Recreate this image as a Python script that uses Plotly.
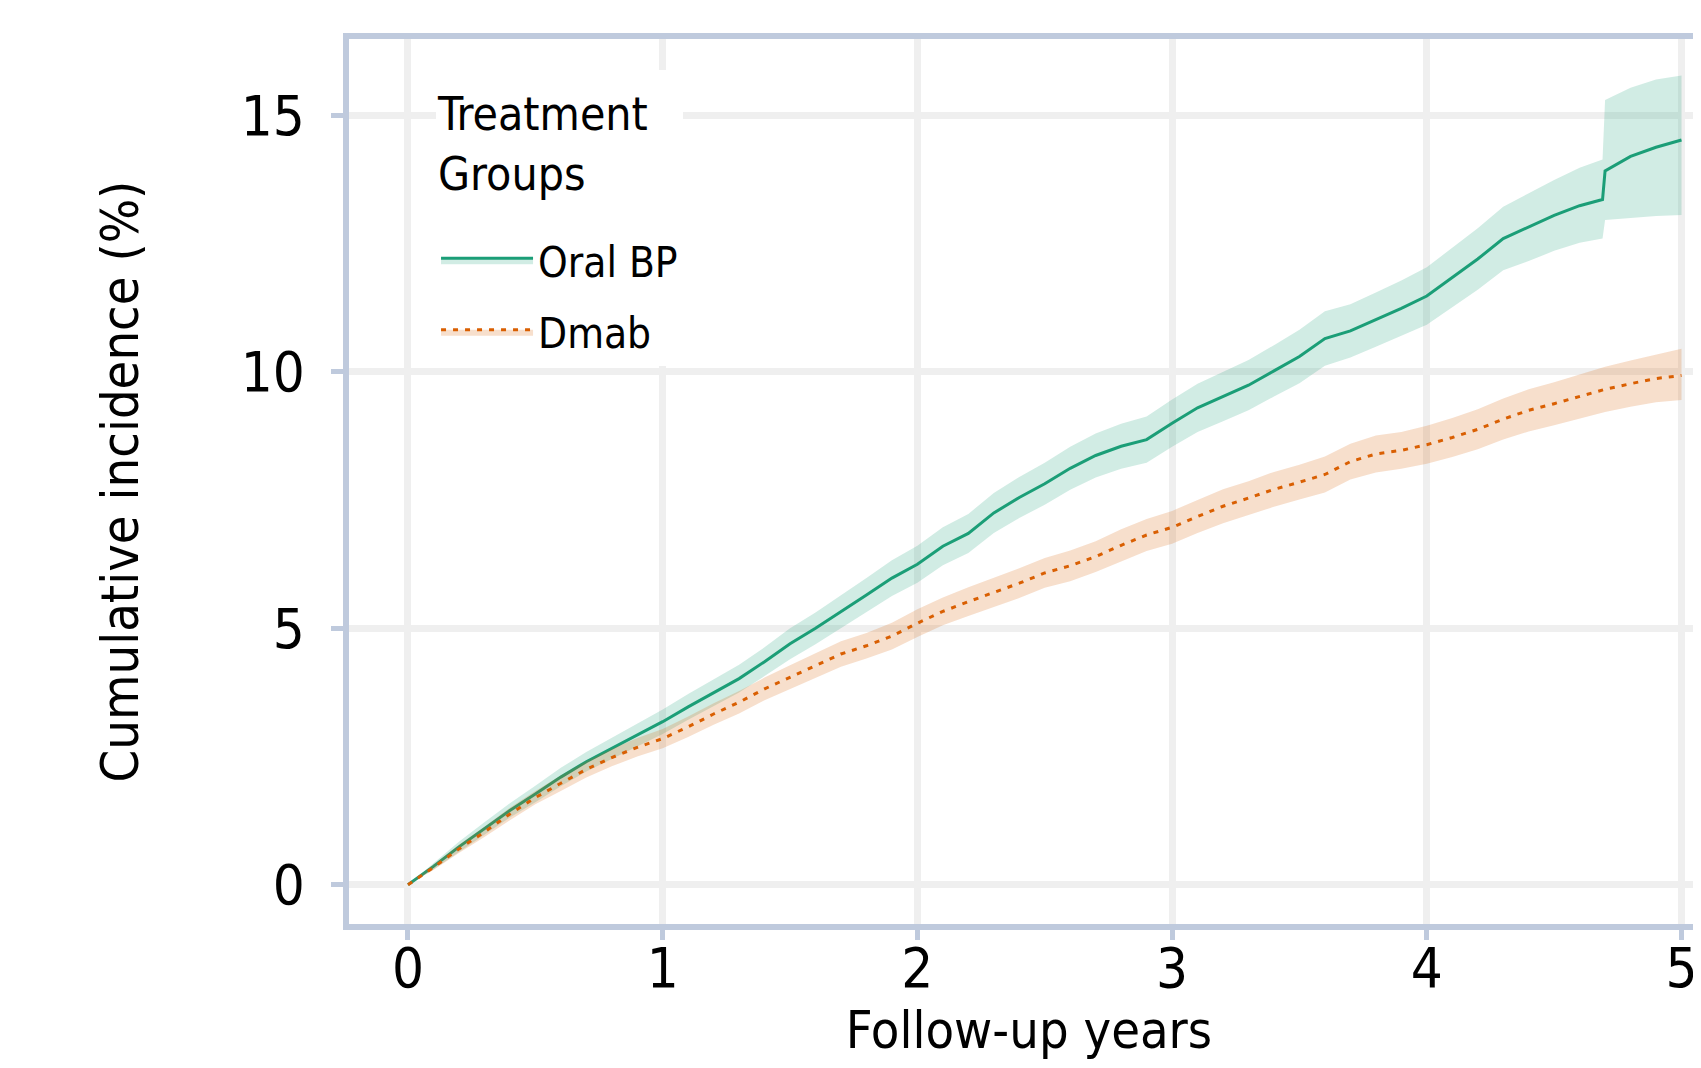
import plotly.graph_objects as go

# ---- data ----
years_bp = [0, 0.1, 0.2, 0.3, 0.4, 0.5, 0.6, 0.7, 0.8, 0.9, 1.0, 1.1, 1.2, 1.3, 1.4, 1.5,
            1.6, 1.7, 1.8, 1.9, 2.0, 2.1, 2.2, 2.3, 2.4, 2.5, 2.6, 2.7, 2.8, 2.9, 3.0,
            3.1, 3.2, 3.3, 3.4, 3.5, 3.6, 3.7, 3.8, 3.9, 4.0, 4.1, 4.2, 4.3, 4.4, 4.5,
            4.6, 4.69, 4.70, 4.8, 4.9, 5.0]
oral_bp = [0, 0.36, 0.74, 1.10, 1.45, 1.77, 2.10, 2.40, 2.66, 2.92, 3.18, 3.47, 3.74,
           4.02, 4.35, 4.70, 5.00, 5.32, 5.65, 5.98, 6.25, 6.60, 6.85, 7.25, 7.55, 7.82,
           8.12, 8.37, 8.55, 8.68, 9.00, 9.30, 9.52, 9.74, 10.02, 10.30, 10.65, 10.80,
           11.02, 11.24, 11.48, 11.84, 12.20, 12.60, 12.82, 13.05, 13.24, 13.36, 13.92,
           14.20, 14.38, 14.52]
oral_bp_hi = [0, 0.42, 0.84, 1.22, 1.59, 1.93, 2.28, 2.59, 2.87, 3.14, 3.42, 3.72, 4.00,
              4.29, 4.63, 5.00, 5.31, 5.64, 5.98, 6.33, 6.61, 6.97, 7.23, 7.64, 7.95, 8.23,
              8.54, 8.80, 8.99, 9.13, 9.46, 9.77, 10.00, 10.23, 10.52, 10.82, 11.18, 11.32,
              11.55, 11.78, 12.04, 12.42, 12.80, 13.22, 13.48, 13.74, 13.98, 14.14, 15.30,
              15.54, 15.70, 15.78]
oral_bp_lo = [0, 0.30, 0.64, 0.98, 1.31, 1.61, 1.92, 2.21, 2.45, 2.70, 2.94, 3.22, 3.48,
              3.75, 4.07, 4.40, 4.69, 5.00, 5.32, 5.63, 5.89, 6.23, 6.47, 6.86, 7.15, 7.41,
              7.70, 7.94, 8.11, 8.23, 8.54, 8.83, 9.04, 9.25, 9.52, 9.78, 10.12, 10.28,
              10.49, 10.70, 10.92, 11.26, 11.60, 11.98, 12.16, 12.36, 12.52, 12.60, 12.96,
              13.00, 13.04, 13.06]

years_dmab = [0, 0.1, 0.2, 0.3, 0.4, 0.5, 0.6, 0.7, 0.8, 0.9, 1.0, 1.1, 1.2, 1.3, 1.4, 1.5,
              1.6, 1.7, 1.8, 1.9, 2.0, 2.1, 2.2, 2.3, 2.4, 2.5, 2.6, 2.7, 2.8, 2.9, 3.0,
              3.1, 3.2, 3.3, 3.4, 3.5, 3.6, 3.7, 3.8, 3.9, 4.0, 4.1, 4.2, 4.3, 4.4, 4.5,
              4.6, 4.7, 4.8, 4.9, 5.0]
dmab = [0, 0.34, 0.70, 1.03, 1.38, 1.70, 1.98, 2.25, 2.48, 2.68, 2.85, 3.08, 3.33, 3.56,
        3.82, 4.05, 4.28, 4.50, 4.66, 4.85, 5.10, 5.33, 5.52, 5.70, 5.88, 6.08, 6.22, 6.40,
        6.62, 6.82, 6.97, 7.18, 7.38, 7.54, 7.71, 7.85, 8.00, 8.25, 8.40, 8.47, 8.58, 8.72,
        8.88, 9.08, 9.25, 9.38, 9.52, 9.66, 9.77, 9.87, 9.93]
dmab_hi = [0, 0.39, 0.78, 1.13, 1.50, 1.83, 2.13, 2.41, 2.65, 2.86, 3.04, 3.28, 3.54, 3.78,
           4.04, 4.28, 4.52, 4.75, 4.91, 5.11, 5.37, 5.60, 5.80, 5.98, 6.17, 6.37, 6.52,
           6.70, 6.93, 7.13, 7.29, 7.50, 7.71, 7.87, 8.05, 8.19, 8.35, 8.60, 8.76, 8.83,
           8.95, 9.10, 9.27, 9.48, 9.66, 9.80, 9.95, 10.10, 10.22, 10.33, 10.45]
dmab_lo = [0, 0.29, 0.62, 0.93, 1.26, 1.57, 1.83, 2.09, 2.31, 2.50, 2.66, 2.88, 3.12, 3.34,
           3.60, 3.82, 4.04, 4.25, 4.41, 4.59, 4.83, 5.06, 5.24, 5.42, 5.59, 5.79, 5.92,
           6.10, 6.31, 6.51, 6.65, 6.86, 7.05, 7.21, 7.37, 7.51, 7.65, 7.90, 8.04, 8.11,
           8.21, 8.34, 8.49, 8.68, 8.84, 8.96, 9.09, 9.22, 9.32, 9.41, 9.45]

x_ticks = [0, 1, 2, 3, 4, 5]
y_ticks = [0, 5, 10, 15]

FONT = "Liberation Sans Narrow, DejaVu Sans Condensed, Open Sans, sans-serif"
GREEN = "#1b9e77"
GREEN_FILL = "rgba(27,158,119,0.2)"
ORANGE = "#d95f02"
ORANGE_FILL = "rgba(217,95,2,0.2)"
AXIS = "#bfcadd"
GRID = "#efefef"

fig = go.Figure()

# Oral BP: lower bound, main line (fills down to lower), upper bound (fills down to line)
fig.add_trace(go.Scatter(x=years_bp, y=oral_bp_lo, mode="lines", line=dict(width=0, color=GREEN),
                         legendgroup="bp", showlegend=False, hoverinfo="skip"))
fig.add_trace(go.Scatter(x=years_bp, y=oral_bp, mode="lines", name="Oral BP",
                         legendgroup="bp",
                         legendgrouptitle=dict(text=" ", font=dict(size=26, family=FONT)),
                         line=dict(color=GREEN, width=3), fill="tonexty", fillcolor=GREEN_FILL))
fig.add_trace(go.Scatter(x=years_bp, y=oral_bp_hi, mode="lines", line=dict(width=0, color=GREEN),
                         legendgroup="bp", fill="tonexty", fillcolor=GREEN_FILL,
                         showlegend=False, hoverinfo="skip"))

# Dmab
fig.add_trace(go.Scatter(x=years_dmab, y=dmab_lo, mode="lines", line=dict(width=0, color=ORANGE),
                         legendgroup="dmab", showlegend=False, hoverinfo="skip"))
fig.add_trace(go.Scatter(x=years_dmab, y=dmab, mode="lines", name="Dmab", legendgroup="dmab",
                         line=dict(color=ORANGE, width=3, dash="5px,7px"),
                         fill="tonexty", fillcolor=ORANGE_FILL))
fig.add_trace(go.Scatter(x=years_dmab, y=dmab_hi, mode="lines", line=dict(width=0, color=ORANGE),
                         legendgroup="dmab", fill="tonexty", fillcolor=ORANGE_FILL,
                         showlegend=False, hoverinfo="skip"))

fig.update_layout(
    width=1701, height=1068,
    paper_bgcolor="white", plot_bgcolor="white",
    margin=dict(l=341, r=0, t=31, b=152, autoexpand=False),
    font=dict(family=FONT, color="black"),
    legend=dict(
        title=dict(text="Treatment<br>Groups", font=dict(size=46, family=FONT)),
        font=dict(size=42, family=FONT),
        x=0.064, y=0.965, xanchor="left", yanchor="top",
        bgcolor="white", borderwidth=0, itemwidth=92,
        traceorder="grouped", tracegroupgap=14,
    ),
)

fig.update_xaxes(
    range=[-0.2316, 5.108], tickvals=x_ticks, ticktext=[str(v) for v in x_ticks],
    showgrid=True, gridcolor=GRID, gridwidth=7, zeroline=False,
    showline=True, linecolor=AXIS, linewidth=6, mirror=True,
    ticks="outside", ticklen=10, tickwidth=5, tickcolor=AXIS,
    tickfont=dict(size=56, family=FONT), ticklabelstandoff=-20,
    title=dict(text="Follow-up years", font=dict(size=52, family=FONT), standoff=12),
    automargin=False,
)
fig.update_yaxes(
    range=[-0.764, 16.49], tickvals=y_ticks, ticktext=[str(v) for v in y_ticks],
    showgrid=True, gridcolor=GRID, gridwidth=7, zeroline=False,
    showline=True, linecolor=AXIS, linewidth=6, mirror=False,
    ticks="outside", ticklen=12, tickwidth=5, tickcolor=AXIS,
    tickfont=dict(size=56, family=FONT), ticklabelstandoff=15,
    title=dict(text="Cumulative incidence (%)", font=dict(size=52, family=FONT), standoff=88),
    automargin=False,
)

fig.write_html("out.html")
